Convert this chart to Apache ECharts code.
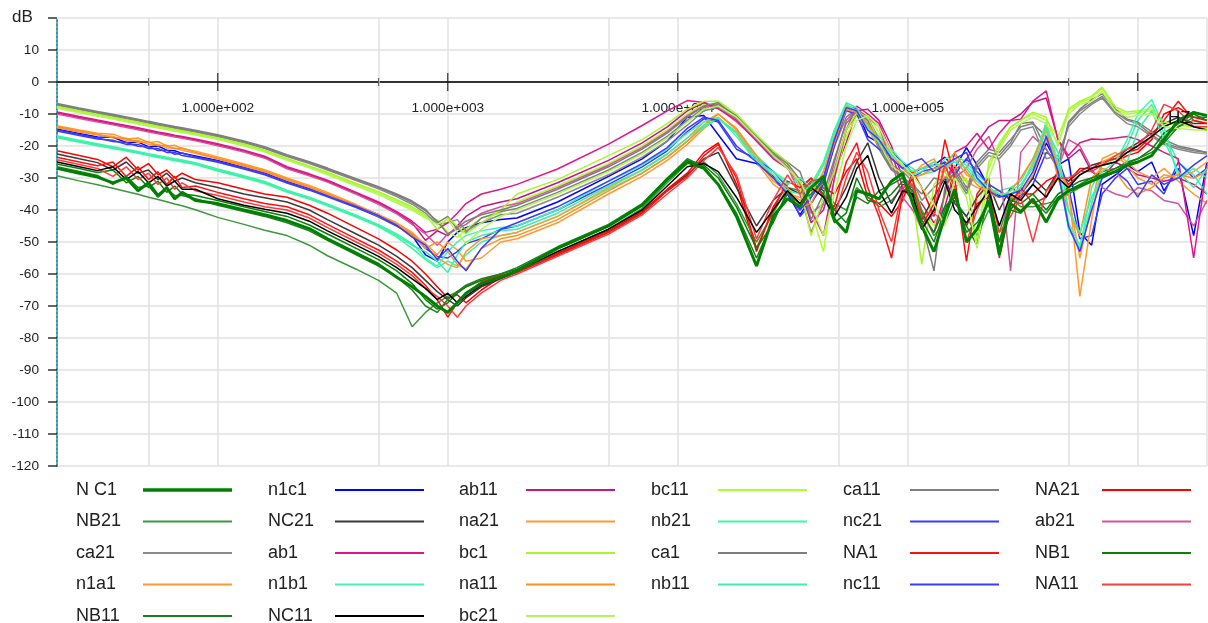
<!DOCTYPE html>
<html>
<head>
<meta charset="utf-8">
<title>dB / HZ</title>
<script src="https://cdn.jsdelivr.net/npm/echarts@6/dist/echarts.min.js"></script>
<style>
  html, body { margin: 0; padding: 0; background: #fff; }
  #chart { width: 1208px; height: 623px; }
</style>
</head>
<body>
<div id="chart"></div>
<script>
// frequency points (Hz)
var freq = [
  20, 25, 30, 35, 40, 45, 50, 55, 60, 65, 70, 80, 100,
  130, 160, 200, 250, 300, 400, 500,
  600, 700, 800, 900, 1000, 1100, 1200, 1400, 1700,
  2000, 3000, 5000, 7000, 9000, 11000, 13000, 15000,
  18000, 22000, 26000, 30000, 34000, 38000, 43000, 48000, 54000, 60000,
  67000, 75000, 85000, 95000, 105000, 115000, 130000, 145000, 160000, 180000,
  200000, 225000, 250000, 280000, 310000, 350000, 400000, 450000, 500000, 560000,
  630000, 700000, 800000, 900000, 1000000, 1150000, 1300000, 1500000, 1750000, 2000000
];

// dB values, one list per curve
var ca1 = [
  -7.0, -8.4, -9.5, -10.4, -11.2, -11.9, -12.6, -13.2, -13.7, -14.2, -14.6, -15.4, -16.8,
  -18.7, -20.5, -23.0, -25.2, -27.2, -30.5, -33.0,
  -35.3, -37.6, -40.2, -43.5, -47.5, -45.5, -43.5, -41.5, -40.0,
  -38.5, -33.5, -26.5, -21.0, -16.0, -11.0, -7.5, -6.5,
  -11, -17.5, -22.5, -25.5, -30.5, -43, -35, -24, -13, -9, -12, -20, -27, -29.5, -33, -44, -59, -33, -28, -34,
  -26, -22, -23, -19, -13, -12.5, -21, -27, -12.5, -8.5, -5.5, -3.7, -8.5, -11.6, -12.5, -15.5, -18, -20, -21, -22
];
var ca11 = [
  -6.7, -8.1, -9.2, -10.1, -10.9, -11.6, -12.3, -12.9, -13.4, -13.9, -14.3, -15.1, -16.5,
  -18.4, -20.2, -22.7, -24.9, -26.9, -30.2, -32.7,
  -35.0, -37.2, -39.8, -44.0, -42.0, -46.0, -47.0, -42.5, -40.5,
  -39.5, -34.5, -27.5, -22.0, -17.0, -12.0, -8.0, -7.0,
  -10.5, -17, -22, -25, -28, -38, -31, -20, -11, -8.5, -13, -21, -27.5, -30, -32, -35, -30, -31, -27, -33,
  -25, -21, -22, -18, -14, -13, -17, -26, -13, -9, -6.5, -4.5, -9.5, -12, -13, -16.5, -19, -20.5, -21.5, -22
];
var ca21 = [
  -7.3, -8.7, -9.8, -10.7, -11.5, -12.2, -12.9, -13.5, -14.0, -14.5, -14.9, -15.7, -17.1,
  -19.0, -20.8, -23.3, -25.5, -27.5, -30.8, -33.4,
  -35.8, -38.2, -41.0, -44.5, -44.0, -43.0, -46.5, -44.0, -41.5,
  -41.0, -36.0, -29.0, -23.5, -18.5, -13.5, -9.0, -8.0,
  -11.5, -18, -23.5, -26.5, -32, -41, -38, -27, -15, -10, -11, -18, -26, -28, -31, -37, -33, -30, -29, -35,
  -27, -23, -24, -20, -15, -14, -24, -23, -14, -10, -7, -5, -10, -13, -14, -17, -19.5, -21, -22, -22.5
];
var bc1 = [
  -7.6, -9.0, -10.1, -11.0, -11.8, -12.5, -13.2, -13.8, -14.3, -14.8, -15.2, -16.0, -17.4,
  -19.4, -21.3, -23.9, -26.2, -28.2, -31.7, -34.3,
  -36.8, -39.0, -41.5, -46.0, -42.5, -45.0, -47.5, -44.0, -40.0,
  -35.0, -30.5, -23.0, -18.0, -13.0, -8.5, -6.0, -6.0,
  -10, -16.5, -21.5, -25, -33, -48, -36, -28, -15, -9.5, -11, -19, -26, -29, -36, -57, -32, -28, -33, -30,
  -50, -25, -20, -14, -12, -9.4, -11, -20, -8.4, -6, -4.4, -1.6, -7.8, -9.4, -9, -8.4, -12.5, -13, -13.7, -14
];
var bc11 = [
  -7.9, -9.3, -10.4, -11.3, -12.1, -12.8, -13.5, -14.1, -14.6, -15.1, -15.5, -16.3, -17.7,
  -19.7, -21.6, -24.2, -26.5, -28.6, -32.1, -34.8,
  -37.3, -39.5, -42.0, -43.0, -47.0, -48.5, -46.0, -42.5, -41.0,
  -37.5, -32.5, -25.5, -20.0, -15.0, -10.0, -7.0, -6.5,
  -10.5, -17, -22, -26, -32, -40, -53, -30, -17, -10.5, -10, -16, -24, -27, -30, -40, -45, -36, -28, -31,
  -40, -27, -19, -14, -12, -10, -12, -17, -9, -6.5, -5, -2, -8.5, -10, -9.5, -9, -13, -13.5, -14, -14.5
];
var bc21 = [
  -8.2, -9.6, -10.7, -11.6, -12.4, -13.1, -13.8, -14.4, -14.9, -15.4, -15.8, -16.6, -18.0,
  -20.0, -21.9, -24.5, -26.8, -29.0, -32.5, -35.2,
  -37.8, -40.0, -42.5, -44.5, -43.0, -47.0, -50.5, -46.0, -42.0,
  -40.0, -35.0, -28.0, -22.5, -17.5, -12.5, -8.5, -7.5,
  -11, -17.5, -23, -27, -31, -38, -48, -35, -20, -12, -10.5, -14, -22, -26, -29, -33, -38, -45, -30, -36,
  -52, -30, -21, -15, -13, -11, -13, -19, -10, -7, -6, -3, -9, -11, -10.5, -10, -14, -14.5, -15, -15
];
var ab1 = [
  -9.4, -10.8, -11.9, -12.8, -13.6, -14.3, -15.0, -15.6, -16.1, -16.6, -17.0, -17.8, -19.3,
  -21.3, -23.2, -26.5, -28.7, -30.7, -34.5, -37.5,
  -40.5, -43.5, -47.0, -46.0, -44.0, -41.0, -38.0, -35.0, -33.5,
  -32.0, -27.2, -19.4, -13.6, -9.0, -5.8, -6.4, -8.4,
  -12, -18.5, -24, -27, -31, -40, -48, -30, -15, -7.5, -10, -13, -22, -33, -37, -42, -47, -35, -22, -20,
  -16, -21, -16, -12, -11.6, -6, -2.8, -18, -23, -19, -17.8, -18, -17.5, -17, -18, -20, -22, -24, -55, -26
];
var ab11 = [
  -9.7, -11.1, -12.2, -13.1, -13.9, -14.6, -15.3, -15.9, -16.4, -16.9, -17.3, -18.1, -19.6,
  -21.6, -23.5, -26.8, -29.0, -31.0, -34.8, -37.8,
  -40.8, -44.0, -49.5, -46.5, -48.0, -45.0, -42.0, -39.0, -37.5,
  -36.5, -31.5, -24.5, -19.0, -14.0, -9.0, -6.5, -7.5,
  -11, -17, -22.5, -26, -33, -44, -40, -28, -19, -9, -8.5, -12, -20, -30, -35, -38, -44, -39, -28, -24,
  -19, -14, -12, -12, -10, -6.3, -5, -18, -24, -21, -28, -30, -25, -27, -29, -30, -31, -30, -32, -35
];
var ab21 = [
  -10.0, -11.4, -12.5, -13.4, -14.2, -14.9, -15.6, -16.2, -16.7, -17.2, -17.6, -18.4, -19.9,
  -21.9, -23.8, -27.1, -29.3, -31.3, -35.1, -38.2,
  -41.2, -44.5, -47.5, -51.0, -47.5, -46.0, -44.5, -41.0, -39.0,
  -38.0, -33.0, -26.0, -20.5, -15.5, -10.5, -7.5, -8.0,
  -12.5, -18, -23, -26.5, -35, -47, -38, -25, -12, -8.5, -11, -14, -25, -36, -40, -46, -41, -44, -30, -27,
  -21, -17, -25, -59, -22, -17, -21, -27, -18, -20, -27, -33, -35, -36, -33, -34, -37, -38, -45, -37
];
var n1a1 = [
  -13.7, -15.0, -16.0, -16.3, -17.8, -17.5, -18.9, -18.6, -20.0, -19.8, -20.8, -21.6, -23.4,
  -25.6, -27.4, -30.0, -32.3, -34.5, -38.3, -41.5,
  -44.0, -47.0, -51.0, -55.0, -57.0, -58.0, -53.0, -49.0, -48.0,
  -47.0, -42.0, -33.0, -27.5, -22.5, -17.5, -12.5, -10.0,
  -15, -24, -31, -34, -37, -35, -28, -17, -7.5, -9, -14, -19, -23, -26, -28, -27, -25, -28, -24, -29,
  -31, -34, -35, -35, -33, -26, -13, -27, -33, -67, -43, -25, -23, -26, -30, -32, -29, -30, -28, -25
];
var na11 = [
  -14.0, -15.3, -16.3, -17.4, -17.6, -18.9, -18.7, -19.9, -19.8, -20.9, -20.6, -22.0, -23.8,
  -26.0, -27.8, -30.4, -32.7, -34.9, -38.7, -41.9,
  -44.5, -47.5, -52.0, -50.0, -53.0, -57.0, -58.5, -52.0, -49.0,
  -48.0, -43.0, -34.0, -28.5, -23.5, -18.5, -13.5, -10.0,
  -14.5, -23, -30, -33, -39, -38, -30, -19, -8.5, -9.5, -13, -18, -22, -27, -30, -29, -27, -26, -22, -28,
  -32, -35, -36, -34, -30, -24, -15, -30, -40, -48, -30, -27, -28, -33, -35, -33, -30, -29, -30, -28
];
var na21 = [
  -14.3, -15.6, -16.6, -17.0, -18.3, -18.3, -19.5, -19.5, -20.6, -20.6, -21.3, -22.3, -24.1,
  -26.3, -28.1, -30.7, -33.0, -35.2, -39.0, -42.2,
  -45.0, -48.0, -50.5, -54.0, -50.0, -52.5, -56.0, -55.0, -50.0,
  -49.0, -44.0, -35.0, -29.5, -24.5, -19.5, -14.5, -11.0,
  -16, -25, -32, -35, -36, -33, -26, -15, -8, -10, -15, -20, -24, -27, -29, -26, -24, -30, -26, -31,
  -33, -34, -34, -36, -35, -29, -18, -25, -35, -55, -38, -24, -22, -25, -28, -30, -27, -31, -35, -38
];
var n1c1 = [
  -14.7, -16.1, -17.2, -17.3, -18.9, -18.8, -20.2, -20.0, -21.3, -21.5, -22.3, -23.1, -24.5,
  -26.6, -28.4, -31.0, -33.2, -35.3, -38.6, -41.5,
  -44.5, -48.0, -54.0, -56.0, -50.0, -47.0, -45.5, -44.0, -43.0,
  -42.5, -37.5, -29.5, -24.0, -18.5, -11.0, -10.5, -16.5,
  -24, -25.5, -29.5, -35, -41.5, -36, -30, -18, -7.5, -8.5, -17, -19, -22, -25, -28.5, -27, -26, -23.5, -27, -20.5,
  -26, -33, -35.5, -36, -35, -30, -19, -26, -24, -47, -51, -32, -29, -26, -28, -25, -34, -27, -48, -25
];
var nc11 = [
  -15.0, -16.4, -17.5, -18.6, -18.9, -20.1, -20.2, -21.4, -21.3, -22.6, -22.2, -23.4, -24.8,
  -26.9, -28.7, -31.3, -33.5, -35.6, -38.9, -41.8,
  -44.8, -48.5, -51.0, -55.5, -52.0, -56.0, -59.0, -52.0, -46.0,
  -44.0, -39.0, -31.0, -25.5, -20.5, -14.5, -11.0, -12.0,
  -20, -25, -30, -35, -40, -36, -30, -18, -8, -9, -15, -18, -24, -27, -25, -24, -28, -26, -24, -22,
  -30, -34, -36, -35, -34, -28, -17, -28, -45, -53, -40, -30, -28, -31, -36, -29, -32, -30, -26, -23
];
var nc21 = [
  -15.3, -16.7, -17.8, -18.2, -19.5, -19.5, -20.8, -20.8, -22.0, -22.0, -23.0, -23.7, -25.1,
  -27.2, -29.0, -31.6, -33.8, -35.9, -39.2, -42.1,
  -45.0, -47.5, -52.0, -54.5, -55.0, -53.0, -50.5, -49.0, -46.0,
  -45.0, -40.0, -32.0, -26.5, -21.5, -15.5, -11.5, -12.5,
  -21, -24, -28, -33, -42, -38, -32, -20, -9, -10, -18, -21, -23, -26, -30, -28, -27, -25, -29, -24,
  -28, -32, -34, -37, -36, -32, -22, -24, -33, -49, -48, -35, -30, -27, -32, -31, -35, -25, -30, -27
];
var n1b1 = [
  -16.8, -18.2, -19.3, -20.2, -21.0, -21.7, -22.4, -23.0, -23.5, -24.0, -24.4, -25.2, -27.2,
  -29.3, -31.1, -33.8, -36.0, -38.1, -41.6, -44.6,
  -47.5, -50.5, -55.0, -57.5, -53.0, -50.0, -48.0, -46.5, -45.5,
  -45.0, -40.0, -31.0, -26.0, -21.0, -16.0, -12.5, -11.0,
  -17, -25, -28, -32, -30, -33, -26, -16, -7, -9, -14, -18, -23, -27, -29, -28, -25, -27, -24, -26,
  -30, -33, -35, -35, -33, -25, -12.5, -25, -44, -51, -38, -28, -25, -18, -10, -5.5, -14, -30, -27, -30
];
var nb11 = [
  -17.1, -18.5, -19.6, -20.5, -21.3, -22.0, -22.7, -23.3, -23.8, -24.3, -24.7, -25.5, -27.5,
  -29.6, -31.4, -34.1, -36.3, -38.4, -41.9, -44.9,
  -48.0, -51.0, -53.0, -56.0, -59.5, -54.0, -50.0, -48.0, -46.5,
  -46.0, -41.0, -32.5, -27.5, -22.5, -17.5, -13.5, -11.5,
  -16, -24, -29, -34, -35, -32, -25, -15, -6.5, -8, -15, -19, -22, -26, -28, -27, -26, -26, -25, -27,
  -31, -34, -36, -34, -32, -27, -15, -22, -40, -47, -36, -30, -28, -25, -15, -9, -18, -28, -33, -27
];
var nb21 = [
  -17.4, -18.8, -19.9, -20.8, -21.6, -22.3, -23.0, -23.6, -24.1, -24.6, -25.0, -25.8, -27.8,
  -29.9, -31.7, -34.4, -36.6, -38.7, -42.2, -45.2,
  -48.5, -52.0, -55.5, -58.0, -56.0, -57.5, -54.0, -50.0, -48.0,
  -47.0, -42.0, -33.5, -28.5, -23.5, -18.5, -14.0, -11.5,
  -15.5, -23, -28, -31, -33, -36, -28, -17, -7, -9, -13, -17, -21, -25, -27, -29, -28, -24, -23, -25,
  -29, -32, -34, -33, -31, -24, -14, -28, -46, -52, -33, -26, -24, -20, -12, -7, -16, -25, -29, -35
];
var NC1 = [
  -27.0, -28.5, -29.7, -31.5, -30.0, -34.0, -31.5, -35.5, -33.0, -36.5, -34.5, -37.0, -38.0,
  -40.0, -41.5, -43.3, -45.8, -49.0, -53.5, -57.0,
  -61.0, -64.0, -67.0, -70.0, -72.0, -69.0, -66.0, -63.0, -61.0,
  -59.0, -52.0, -45.0, -38.5, -30.5, -25.0, -27.0, -32.0,
  -42, -57.5, -42, -36.5, -39, -33, -29.5, -43, -47, -34, -35, -36.5, -31, -28.5, -38, -45, -53, -42, -33.5, -50,
  -46, -37, -54, -38, -40.5, -36.6, -43.8, -36.6, -34, -32.5, -31, -29.5, -28, -26, -25, -23, -18, -12, -9.5, -10.5
];
var NB1 = [
  -25.6, -27.0, -28.3, -27.5, -31.5, -29.5, -33.0, -31.0, -34.5, -32.5, -35.0, -35.5, -37.0,
  -39.0, -40.5, -42.0, -44.7, -47.5, -52.0, -55.5,
  -59.0, -63.0, -68.0, -71.0, -69.0, -66.0, -64.0, -62.0, -60.0,
  -58.5, -52.0, -45.0, -38.5, -30.5, -24.5, -26.0, -30.0,
  -39, -52, -44, -34, -40, -31, -35, -44, -41, -30, -37, -38, -35, -31, -34, -41, -47, -39, -36, -45,
  -51, -35, -50, -37, -38, -35, -40, -35, -33, -31, -30, -28, -27, -25, -24, -21, -16, -13, -10, -12
];
var NB11 = [
  -26.5, -28.0, -29.2, -32.0, -29.5, -33.0, -32.5, -36.0, -33.5, -35.5, -35.5, -36.5, -38.5,
  -40.5, -42.0, -44.0, -46.5, -49.5, -54.0, -57.5,
  -61.0, -65.0, -70.0, -72.0, -68.0, -65.5, -63.5, -61.5, -60.0,
  -58.0, -51.5, -44.5, -38.0, -30.0, -24.0, -26.5, -32.0,
  -41, -55, -43, -35, -38, -35, -31, -40, -44, -36, -38, -34, -32, -30, -36, -43, -50, -40, -34, -47,
  -44, -38, -52, -40, -41, -37, -41, -36, -34, -32, -30, -29, -27, -25.5, -24, -22, -19, -14, -11, -11
];
var NB21 = [
  -29.3, -30.9, -32.1, -33.2, -34.2, -35.1, -36.0, -36.7, -37.4, -38.1, -38.7, -39.9, -42.3,
  -44.5, -46.3, -48.0, -51.0, -54.3, -58.5, -62.0,
  -66.0, -76.5, -72.0, -69.0, -67.0, -65.5, -64.0, -62.0, -60.5,
  -59.5, -53.0, -46.0, -39.5, -31.5, -25.5, -25.0, -29.0,
  -38, -50, -41, -33, -34, -30, -33, -38, -40, -33, -36, -39, -37, -33, -32, -40, -48, -44, -37, -42,
  -48, -40, -47, -36, -39, -39, -38, -37, -35, -33, -31, -30, -28, -26, -25, -23, -17, -14, -12, -13
];
var NA1 = [
  -23.5, -25.0, -26.2, -25.0, -29.5, -26.5, -30.5, -28.0, -32.0, -29.5, -33.0, -32.5, -34.5,
  -36.5, -38.0, -39.0, -41.5, -44.5, -49.0, -52.5,
  -56.0, -59.5, -63.5, -68.0, -73.5, -69.0, -66.0, -62.5, -60.5,
  -59.5, -54.0, -47.0, -41.0, -34.0, -29.5, -23.0, -19.5,
  -30, -52, -40, -31, -33, -30, -36, -39, -25, -19, -33, -42, -55, -35, -30, -45, -38, -18, -30, -56,
  -35, -30, -55, -38, -33, -38, -36, -28, -32, -29, -27, -25, -24, -22, -21, -17, -12, -6, -12, -13
];
var NA11 = [
  -24.3, -25.8, -27.0, -29.5, -26.5, -30.5, -28.5, -32.0, -30.0, -33.5, -31.5, -34.0, -35.5,
  -37.5, -39.0, -40.0, -42.5, -45.5, -50.0, -53.5,
  -57.0, -60.5, -64.5, -67.0, -70.0, -73.5, -70.0, -66.0, -62.0,
  -60.0, -54.5, -47.5, -41.5, -35.0, -30.0, -24.5, -20.5,
  -29, -49, -37, -29, -35, -31, -30, -42, -30, -22, -28, -40, -50, -33, -32, -42, -40, -26, -33, -50,
  -40, -33, -47, -42, -36, -50, -34, -30, -30, -28, -28, -26, -23, -21, -20, -15, -7, -9, -14, -14
];
var NA21 = [
  -21.5, -23.0, -24.2, -26.5, -23.5, -27.5, -25.5, -29.0, -27.5, -30.0, -28.5, -30.5, -31.5,
  -33.5, -35.0, -36.0, -38.5, -41.0, -45.5, -49.0,
  -52.5, -56.0, -60.0, -64.0, -67.5, -66.5, -69.0, -65.0, -61.0,
  -59.0, -53.5, -46.5, -40.5, -33.5, -28.5, -22.0, -19.0,
  -32, -53, -39, -32, -30, -34, -33, -35, -28, -24, -36, -38, -42, -37, -28, -33, -42, -25, -36, -45,
  -38, -36, -50, -40, -35, -35, -31, -29, -31, -27, -27, -26, -25, -23, -22, -18, -10, -8, -11, -12
];
var NC21 = [
  -22.5, -24.0, -25.2, -27.5, -25.0, -28.5, -27.5, -30.5, -28.5, -31.0, -30.0, -31.5, -33.0,
  -35.0, -36.2, -37.5, -40.0, -43.0, -47.5, -51.0,
  -54.5, -58.0, -62.0, -65.5, -68.0, -70.0, -67.5, -64.0, -61.5,
  -59.5, -54.0, -47.0, -41.0, -34.0, -29.0, -24.0, -22.0,
  -33, -45, -37, -33, -35, -31, -34, -40, -33, -25, -19, -30, -38, -32, -33, -43, -36, -30, -38, -42,
  -36, -32, -40, -33, -35, -30, -34, -28, -31, -28, -26, -25, -24, -21, -19, -16, -13, -11, -13, -13
];
var NC11 = [
  -25.0, -26.5, -27.7, -26.5, -30.5, -28.0, -31.5, -29.5, -32.5, -31.0, -33.5, -33.5, -36.5,
  -38.5, -39.8, -41.0, -43.5, -46.5, -51.0, -54.5,
  -58.0, -61.5, -64.5, -68.0, -66.0, -69.0, -67.0, -63.5, -61.0,
  -59.0, -53.0, -46.0, -40.0, -32.5, -26.5, -25.5, -28.0,
  -36, -47, -40, -34, -38, -33, -36, -42, -36, -27, -23, -34, -41, -34, -35, -46, -40, -31, -40, -44,
  -39, -34, -45, -35, -37, -32, -36, -30, -33, -29, -27, -26, -25, -22, -20, -17, -14, -12, -14, -15
];

// legend order (row by row, 6 per row)
var names = [
  'N C1', 'n1c1', 'ab11', 'bc11', 'ca11', 'NA21',
  'NB21', 'NC21', 'na21', 'nb21', 'nc21', 'ab21',
  'ca21', 'ab1', 'bc1', 'ca1', 'NA1', 'NB1',
  'n1a1', 'n1b1', 'na11', 'nb11', 'nc11', 'NA11',
  'NB11', 'NC11', 'bc21'
];
var curves = {
  'N C1': NC1, 'n1c1': n1c1, 'ab11': ab11, 'bc11': bc11, 'ca11': ca11, 'NA21': NA21,
  'NB21': NB21, 'NC21': NC21, 'na21': na21, 'nb21': nb21, 'nc21': nc21, 'ab21': ab21,
  'ca21': ca21, 'ab1': ab1, 'bc1': bc1, 'ca1': ca1, 'NA1': NA1, 'NB1': NB1,
  'n1a1': n1a1, 'n1b1': n1b1, 'na11': na11, 'nb11': nb11, 'nc11': nc11, 'NA11': NA11,
  'NB11': NB11, 'NC11': NC11, 'bc21': bc21
};
var colors = {
  'N C1': '#008000', 'n1c1': '#0000ff', 'ab11': '#c71585', 'bc11': '#adff2f', 'ca11': '#808080', 'NA21': '#ff0000',
  'NB21': '#3a9a3a', 'NC21': '#3a3a3a', 'na21': '#ff9a30', 'nb21': '#3cf5a8', 'nc21': '#3a3aff', 'ab21': '#d2559a',
  'ca21': '#8a8a8a', 'ab1': '#e0168c', 'bc1': '#a8f530', 'ca1': '#7d7d7d', 'NA1': '#ff1010', 'NB1': '#0a800a',
  'n1a1': '#ff9a30', 'n1b1': '#40f5b0', 'na11': '#ff9020', 'nb11': '#3cf0a8', 'nc11': '#3c3cff', 'NA11': '#ff3c3c',
  'NB11': '#1f7f1f', 'NC11': '#000000', 'bc21': '#b5f55a'
};

var decadeLabels = [100, 1000, 10000, 100000];
var majorTicks = [100, 1000, 10000, 100000, 1000000];
var minorTicks = [50, 500, 5000, 50000, 500000];
var legendLeft = [76, 268, 459, 651, 843, 1035];

names.forEach(function (n) {
  if (curves[n].length !== freq.length) throw new Error(n + ' has ' + curves[n].length + ' points');
});

function expLabel(v) {
  for (var i = 0; i < decadeLabels.length; i++) {
    if (Math.abs(v - decadeLabels[i]) < 1e-6 * v) {
      var e = Math.round(Math.log10(v));
      return '1.000e+' + ('00' + e).slice(-3);
    }
  }
  return '';
}

var FONT = 'Liberation Sans, Arial, Helvetica, sans-serif';

var series = names.map(function (n) {
  var ys = curves[n];
  return {
    name: n,
    type: 'line',
    data: freq.map(function (f, i) { return [f, ys[i]]; }),
    symbol: 'none',
    showSymbol: false,
    color: colors[n],
    lineStyle: { color: colors[n], width: n === 'N C1' ? 3 : 1.5 },
    z: n === 'N C1' ? 4 : 3,
    silent: true
  };
});

// vertical grid lines at 5*10^n, with their short ticks
series.push({
  type: 'scatter',
  data: minorTicks.map(function (v) { return [v, 0]; }),
  symbol: 'rect',
  symbolSize: [1.2, 8],
  itemStyle: { color: '#444' },
  z: 5,
  silent: true,
  markLine: {
    silent: true,
    symbol: 'none',
    z: 1,
    label: { show: false },
    lineStyle: { color: '#e2e2e2', width: 1.5, type: 'solid' },
    data: minorTicks.map(function (v) { return { xAxis: v }; })
  }
});
// tall ticks at each decade
series.push({
  type: 'scatter',
  data: majorTicks.map(function (v) { return [v, 0]; }),
  symbol: 'rect',
  symbolSize: [1.3, 18],
  itemStyle: { color: '#111' },
  z: 5,
  silent: true
});

var legends = legendLeft.map(function (x, c) {
  return {
    orient: 'vertical',
    left: x,
    top: 481,
    height: 160,
    padding: 0,
    align: 'right',
    itemWidth: 89,
    itemHeight: 14,
    itemGap: 13.5,
    selectedMode: false,
    itemStyle: { opacity: 0 },
    data: names.filter(function (n, i) { return i % 6 === c; }).map(function (n) {
      return { name: n, lineStyle: { width: n === 'N C1' ? 3.5 : 2 } };
    }),
    formatter: '{a|{name}}',
    textStyle: {
      fontFamily: FONT,
      fontSize: 18,
      color: '#222',
      rich: { a: { width: 62, align: 'left', fontSize: 18, fontFamily: FONT, color: '#222' } }
    }
  };
});

var myChart = echarts.init(document.getElementById('chart'));
myChart.setOption({
  animation: false,
  backgroundColor: '#fff',
  textStyle: { fontFamily: FONT },
  grid: { left: 57, right: 1, top: 18, bottom: 157, containLabel: false },
  legend: legends,
  xAxis: {
    type: 'log',
    logBase: 10,
    min: 20,
    max: 2000000,
    position: 'bottom',
    offset: -384,
    axisLine: { onZero: false, lineStyle: { color: '#333', width: 2 } },
    axisTick: { show: false },
    axisLabel: {
      margin: 19,
      fontSize: 13.7,
      color: '#222',
      formatter: expLabel,
      showMinLabel: false,
      showMaxLabel: false
    },
    splitLine: { show: true, lineStyle: { color: '#e2e2e2', width: 1.5 } }
  },
  yAxis: {
    type: 'value',
    min: -120,
    max: 20,
    interval: 10,
    axisLine: { show: true, onZero: false, lineStyle: { color: '#3a98a6', width: 2, type: 'dotted' } },
    axisTick: { show: true, length: 9, lineStyle: { color: '#333', width: 1.5 } },
    axisLabel: {
      margin: 18,
      fontSize: 13.7,
      color: '#222',
      formatter: function (v) { return v === 20 ? '' : String(v); }
    },
    splitLine: { lineStyle: { color: '#e2e2e2', width: 1.5 } }
  },
  graphic: [
    { type: 'text', left: 12, top: 9, style: { text: 'dB', fontSize: 17, fill: '#222', fontFamily: FONT } },
    { type: 'text', left: 1168, top: 110, z: 10, style: { text: 'HZ', fontSize: 17, fill: '#111', fontFamily: FONT } }
  ],
  series: series
});
</script>
</body>
</html>
